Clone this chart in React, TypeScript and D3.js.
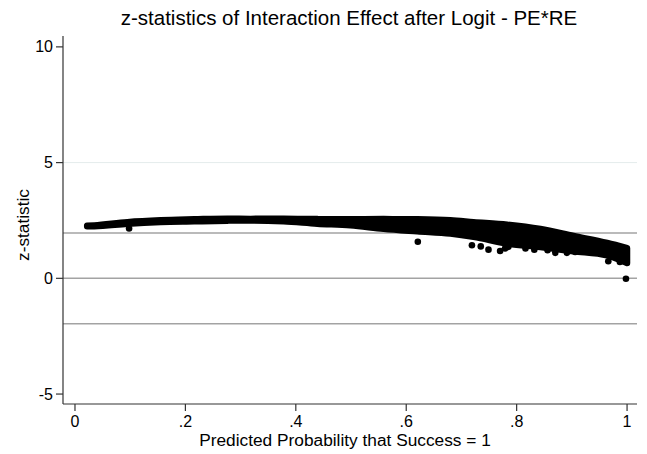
import * as d3 from "d3";
import React from "react";

const probGrid = [0.022, 0.035, 0.095, 0.155, 0.216, 0.276, 0.318, 0.378, 0.439, 0.499, 0.559, 0.62, 0.68, 0.722, 0.783, 0.843, 0.903, 0.964, 1.0];
// upper and lower edge of the dense cloud of z-statistics (marker centres)
const zUpper = [2.27, 2.29, 2.43, 2.51, 2.55, 2.58, 2.57, 2.58, 2.56, 2.55, 2.56, 2.55, 2.51, 2.43, 2.32, 2.13, 1.83, 1.53, 1.31];
const zLower = [2.25, 2.25, 2.36, 2.43, 2.46, 2.49, 2.5, 2.46, 2.36, 2.29, 2.14, 2.03, 1.93, 1.79, 1.5, 1.35, 1.17, 0.99, 0.66];

// points that stick out below the band
const outlierProb = [0.098, 0.621, 0.719, 0.735, 0.749, 0.77, 0.779, 0.785, 0.816, 0.832, 0.856, 0.87, 0.891, 0.906, 0.966, 0.987, 0.998];
const outlierZ = [2.15, 1.58, 1.43, 1.38, 1.24, 1.18, 1.29, 1.36, 1.29, 1.24, 1.21, 1.1, 1.1, 1.14, 0.74, 0.71, -0.02];

const yTicks = [-5, 0, 5, 10];
const xTicks = [0, 0.2, 0.4, 0.6, 0.8, 1];
const xTickLabels = ["0", ".2", ".4", ".6", ".8", "1"];
const refLines = [-1.96, 0, 1.96];
const gridLines = [5];

const W = 647;
const H = 454;
const FONT = "'Liberation Sans', Arial, Helvetica, sans-serif";

export default function App() {
  const x = d3.scaleLinear().domain([-0.0217, 1.018]).range([63, 637]);
  const y = d3.scaleLinear().domain([-5.43, 10.47]).range([404, 36]);

  const band = probGrid.map((p, i) => ({ p, hi: zUpper[i], lo: zLower[i] }));
  const area = d3
    .area<{ p: number; hi: number; lo: number }>()
    .x((d) => x(d.p))
    .y0((d) => y(d.lo))
    .y1((d) => y(d.hi))
    .curve(d3.curveMonotoneX);

  const [x0, x1] = x.range();
  const [yb, yt] = y.range();

  return (
    <svg
      width={W}
      height={H}
      style={{ position: "absolute", left: 0, top: 0, background: "#fff" }}
      fontFamily={FONT}
    >
      <rect x={0} y={0} width={W} height={H} fill="#fff" />
      {gridLines.map((g) => (
        <line key={g} x1={x0} x2={x1} y1={y(g)} y2={y(g)} stroke="#e4ecec" strokeWidth={1} />
      ))}
      {refLines.map((r) => (
        <line key={r} x1={x0} x2={x1} y1={y(r)} y2={y(r)} stroke="#a3a3a3" strokeWidth={1.5} />
      ))}

      <path
        d={area(band) || ""}
        fill="#000"
        stroke="#000"
        strokeWidth={6.4}
        strokeLinejoin="round"
      />
      {outlierProb.map((p, i) => (
        <circle key={i} cx={x(p)} cy={y(outlierZ[i])} r={3.3} fill="#000" />
      ))}

      {/* y axis */}
      <line x1={x0} x2={x0} y1={yt} y2={yb} stroke="#333" strokeWidth={1.2} />
      {yTicks.map((t) => (
        <g key={t}>
          <line x1={x0 - 7} x2={x0} y1={y(t)} y2={y(t)} stroke="#333" strokeWidth={1.2} />
          <text x={x0 - 10} y={y(t)} dy="0.35em" textAnchor="end" fontSize={16} fill="#000">
            {t}
          </text>
        </g>
      ))}
      <text
        transform={`translate(23,225) rotate(-90)`}
        textAnchor="middle"
        dy="0.35em"
        fontSize={17.3}
        fill="#000"
      >
        z-statistic
      </text>

      {/* x axis */}
      <line x1={x0} x2={x1} y1={yb} y2={yb} stroke="#333" strokeWidth={1.2} />
      {xTicks.map((t, i) => (
        <g key={t}>
          <line x1={x(t)} x2={x(t)} y1={yb} y2={yb + 7} stroke="#333" strokeWidth={1.2} />
          <text x={x(t)} y={yb + 23} textAnchor="middle" fontSize={16} fill="#000">
            {xTickLabels[i]}
          </text>
        </g>
      ))}
      <text x={345} y={446} textAnchor="middle" fontSize={17.3} fill="#000">
        Predicted Probability that Success = 1
      </text>

      <text x={349} y={25} textAnchor="middle" fontSize={20.5} fill="#000">
        z-statistics of Interaction Effect after Logit - PE*RE
      </text>
    </svg>
  );
}
